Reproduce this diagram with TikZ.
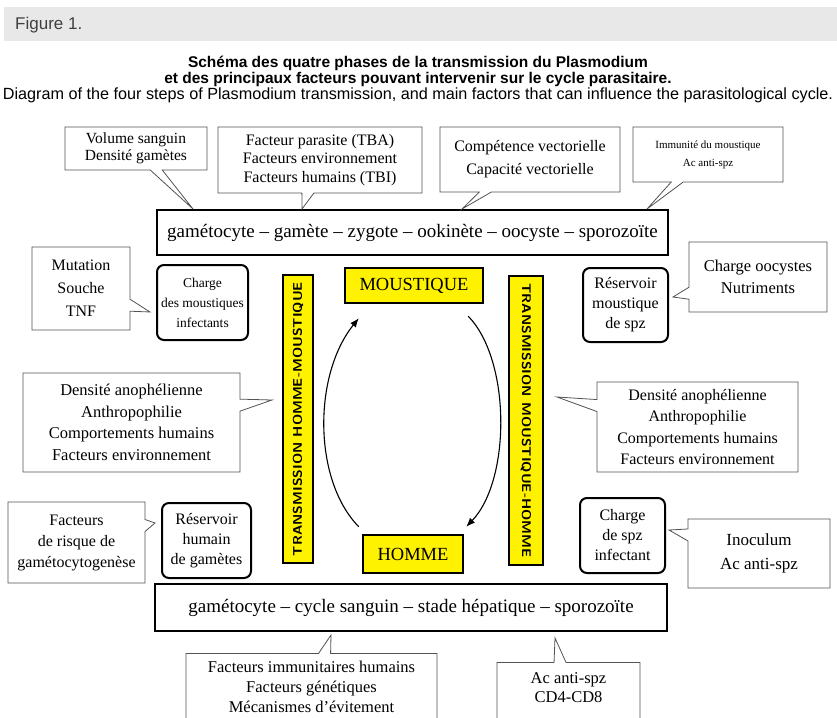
\documentclass[tikz,border=0pt]{standalone}
\usepackage{fontspec}
\setmainfont{Liberation Serif}
\newfontfamily\hdrsans{Liberation Sans}
\usetikzlibrary{positioning,shapes.callouts,arrows.meta}

\newcommand{\fs}[1]{\fontsize{#1}{1.3\dimexpr #1pt\relax}\selectfont}
\newcommand{\topgap}[1]{\rule{0pt}{#1}}

\tikzset{
  note/.style={rectangle callout, draw=gray!65!black, line width=0.8pt, fill=white,
    align=center, inner sep=2pt, callout pointer width=12pt},
  chain/.style={draw, line width=2.4pt, align=center, inner sep=0pt},
  load/.style={draw, line width=2pt, rounded corners=7pt, align=center, inner sep=1pt},
  host/.style={draw, fill=yellow, line width=2.4pt, inner sep=0pt},
  transbar/.style={draw, fill=yellow, line width=2.2pt, inner sep=0pt},
  cyclearc/.style={-{Latex[length=9pt,width=7pt]}, line width=1.1pt},
}

\begin{document}
\begin{tikzpicture}[x=1pt,y=-1pt]
  \useasboundingbox (0,0) rectangle (837,717);
  \clip (0,0) rectangle (837,717);

  % header band and titles
  \fill[gray!18] (4,7) rectangle (837,41);
  \node[anchor=base west, inner sep=0pt, text=black!75, font=\hdrsans\fontsize{17}{20}\selectfont]
    (figlabel) at (15,30) {Figure 1.};
  \node[anchor=base, inner sep=0pt, font=\hdrsans\bfseries\fontsize{15.5}{16}\selectfont]
    (titlefr) at (418,67) {Schéma des quatre phases de la transmission du Plasmodium};
  \node[anchor=base, inner sep=0pt, font=\hdrsans\bfseries\fontsize{15.5}{16}\selectfont]
    (titlefrb) at (418,83) {et des principaux facteurs pouvant intervenir sur le cycle parasitaire.};
  \node[anchor=base, inner sep=0pt, font=\hdrsans\fontsize{16.2}{17}\selectfont]
    (titleen) at (418,99) {Diagram of the four steps of Plasmodium transmission, and main factors that can influence the parasitological cycle.};

  % the two chains of parasite stages
  \node[chain, minimum width=511pt, minimum height=45pt, font=\fs{19}] (mosqchain) at (412.5,232.5)
    {gamétocyte -- gamète -- zygote -- ookinète -- oocyste -- sporozoïte};
  \node[chain, minimum width=512pt, minimum height=47pt, font=\fs{19}] (humchain) at (411,607.5)
    {gamétocyte -- cycle sanguin -- stade hépatique -- sporozoïte};

  % hosts and transmission bars
  \node[host, minimum width=138pt, minimum height=35pt, font=\fs{18.5}] (moust) at (414,285.5) {MOUSTIQUE};
  \node[host, minimum width=100pt, minimum height=38pt, font=\fs{18.5}] (homme) at (413,554) {HOMME};
  \node[transbar, rotate=90, minimum width=288pt, minimum height=30pt] (barhm) at (298,419)
    {\resizebox{274pt}{9pt}{\sffamily\bfseries TRANSMISSION HOMME-MOUSTIQUE}};
  \node[transbar, rotate=-90, minimum width=289pt, minimum height=34pt] (barmh) at (526,420.5)
    {\resizebox{274pt}{9pt}{\sffamily\bfseries TRANSMISSION MOUSTIQUE-HOMME}};

  % parasite loads
  \node[load, minimum width=91pt, minimum height=75pt, font=\fontsize{13.5}{20}\selectfont] (loadmosq) at (202.5,302.5)
    {Charge\\des moustiques\\infectants};
  \node[load, minimum width=85pt, minimum height=74pt, font=\fontsize{16}{20}\selectfont] (resmosq) at (625.5,305)
    {Réservoir\\moustique\\de spz};
  \node[load, minimum width=89pt, minimum height=75pt, font=\fontsize{16}{20}\selectfont] (reshum) at (206.5,540.5)
    {Réservoir\\humain\\de gamètes};
  \node[load, minimum width=85pt, minimum height=75pt, font=\fontsize{16}{20}\selectfont] (loadspz) at (622.5,535.5)
    {Charge\\de spz\\infectant};

  % the cycle
  \draw[cyclearc] ([xshift=-3pt,yshift=7pt]homme.north west)
    .. controls (313,480) and (313,375) .. ([xshift=15pt,yshift=-14pt]moust.south west);
  \draw[cyclearc] ([xshift=-16pt,yshift=-12pt]moust.south east)
    .. controls (511,360) and (511,480) .. ([xshift=2pt,yshift=7pt]homme.north east);

  % factors
  \node[note, minimum width=142pt, minimum height=43pt, font=\fontsize{15.5}{17}\selectfont, callout absolute pointer={(193,209)}]
    (volume) at (136,148.5) {Volume sanguin\\Densité gamètes};
  \node[note, minimum width=204pt, minimum height=66pt, font=\fontsize{16}{18.5}\selectfont, callout absolute pointer={(302,209)}]
    (parasite) at (320,160) {Facteur parasite (TBA)\\Facteurs environnement\\Facteurs humains (TBI)};
  \node[note, minimum width=180pt, minimum height=65pt, font=\fontsize{16}{23}\selectfont, callout absolute pointer={(462,209)}]
    (vector) at (530,159.5) {Compétence vectorielle\\Capacité vectorielle};
  \node[note, minimum width=150pt, minimum height=55pt, font=\fontsize{11}{18}\selectfont, callout absolute pointer={(647,209)}]
    (immmosq) at (708,154.5) {Immunité du moustique\\Ac anti-spz};
  \node[note, minimum width=98pt, minimum height=83pt, font=\fontsize{16}{23}\selectfont, callout absolute pointer={(150,312)}]
    (strain) at (81,288.5) {Mutation\\Souche\\TNF};
  \node[note, minimum width=138pt, minimum height=70pt, font=\fontsize{16.5}{22}\selectfont, callout absolute pointer={(673,297)}]
    (oocyst) at (758,277) {Charge oocystes\\Nutriments};
  \node[note, minimum width=217pt, minimum height=99pt, font=\fontsize{16.5}{21.5}\selectfont, callout absolute pointer={(272,400)}]
    (densleft) at (131.5,422.5) {Densité anophélienne\\Anthropophilie\\Comportements humains\\Facteurs environnement};
  \node[note, minimum width=201pt, minimum height=90pt, font=\fontsize{16}{21.5}\selectfont, callout absolute pointer={(557,397)}]
    (densright) at (697.5,427) {Densité anophélienne\\Anthropophilie\\Comportements humains\\Facteurs environnement};
  \node[note, minimum width=137pt, minimum height=81pt, font=\fontsize{16}{21}\selectfont, callout absolute pointer={(155,523)}]
    (risk) at (76.5,542.5) {Facteurs\\de risque de\\gamétocytogenèse};
  \node[note, minimum width=142pt, minimum height=69pt, font=\fontsize{17}{24}\selectfont, callout absolute pointer={(669,530)}]
    (inoc) at (759,553.5) {Inoculum\\Ac anti-spz};
  \node[note, anchor=north, minimum width=251pt, text depth=14pt, font=\fontsize{16.5}{20}\selectfont, callout absolute pointer={(331,635)}]
    (immhum) at (311.5,653) {\topgap{17pt}Facteurs immunitaires humains\\Facteurs génétiques\\Mécanismes d'évitement};
  \node[note, anchor=north, minimum width=143pt, text depth=40pt, font=\fontsize{16.5}{19}\selectfont, callout absolute pointer={(555,638)}]
    (acspz) at (568.5,662) {\topgap{19pt}Ac anti-spz\\CD4-CD8};
\end{tikzpicture}
\end{document}
